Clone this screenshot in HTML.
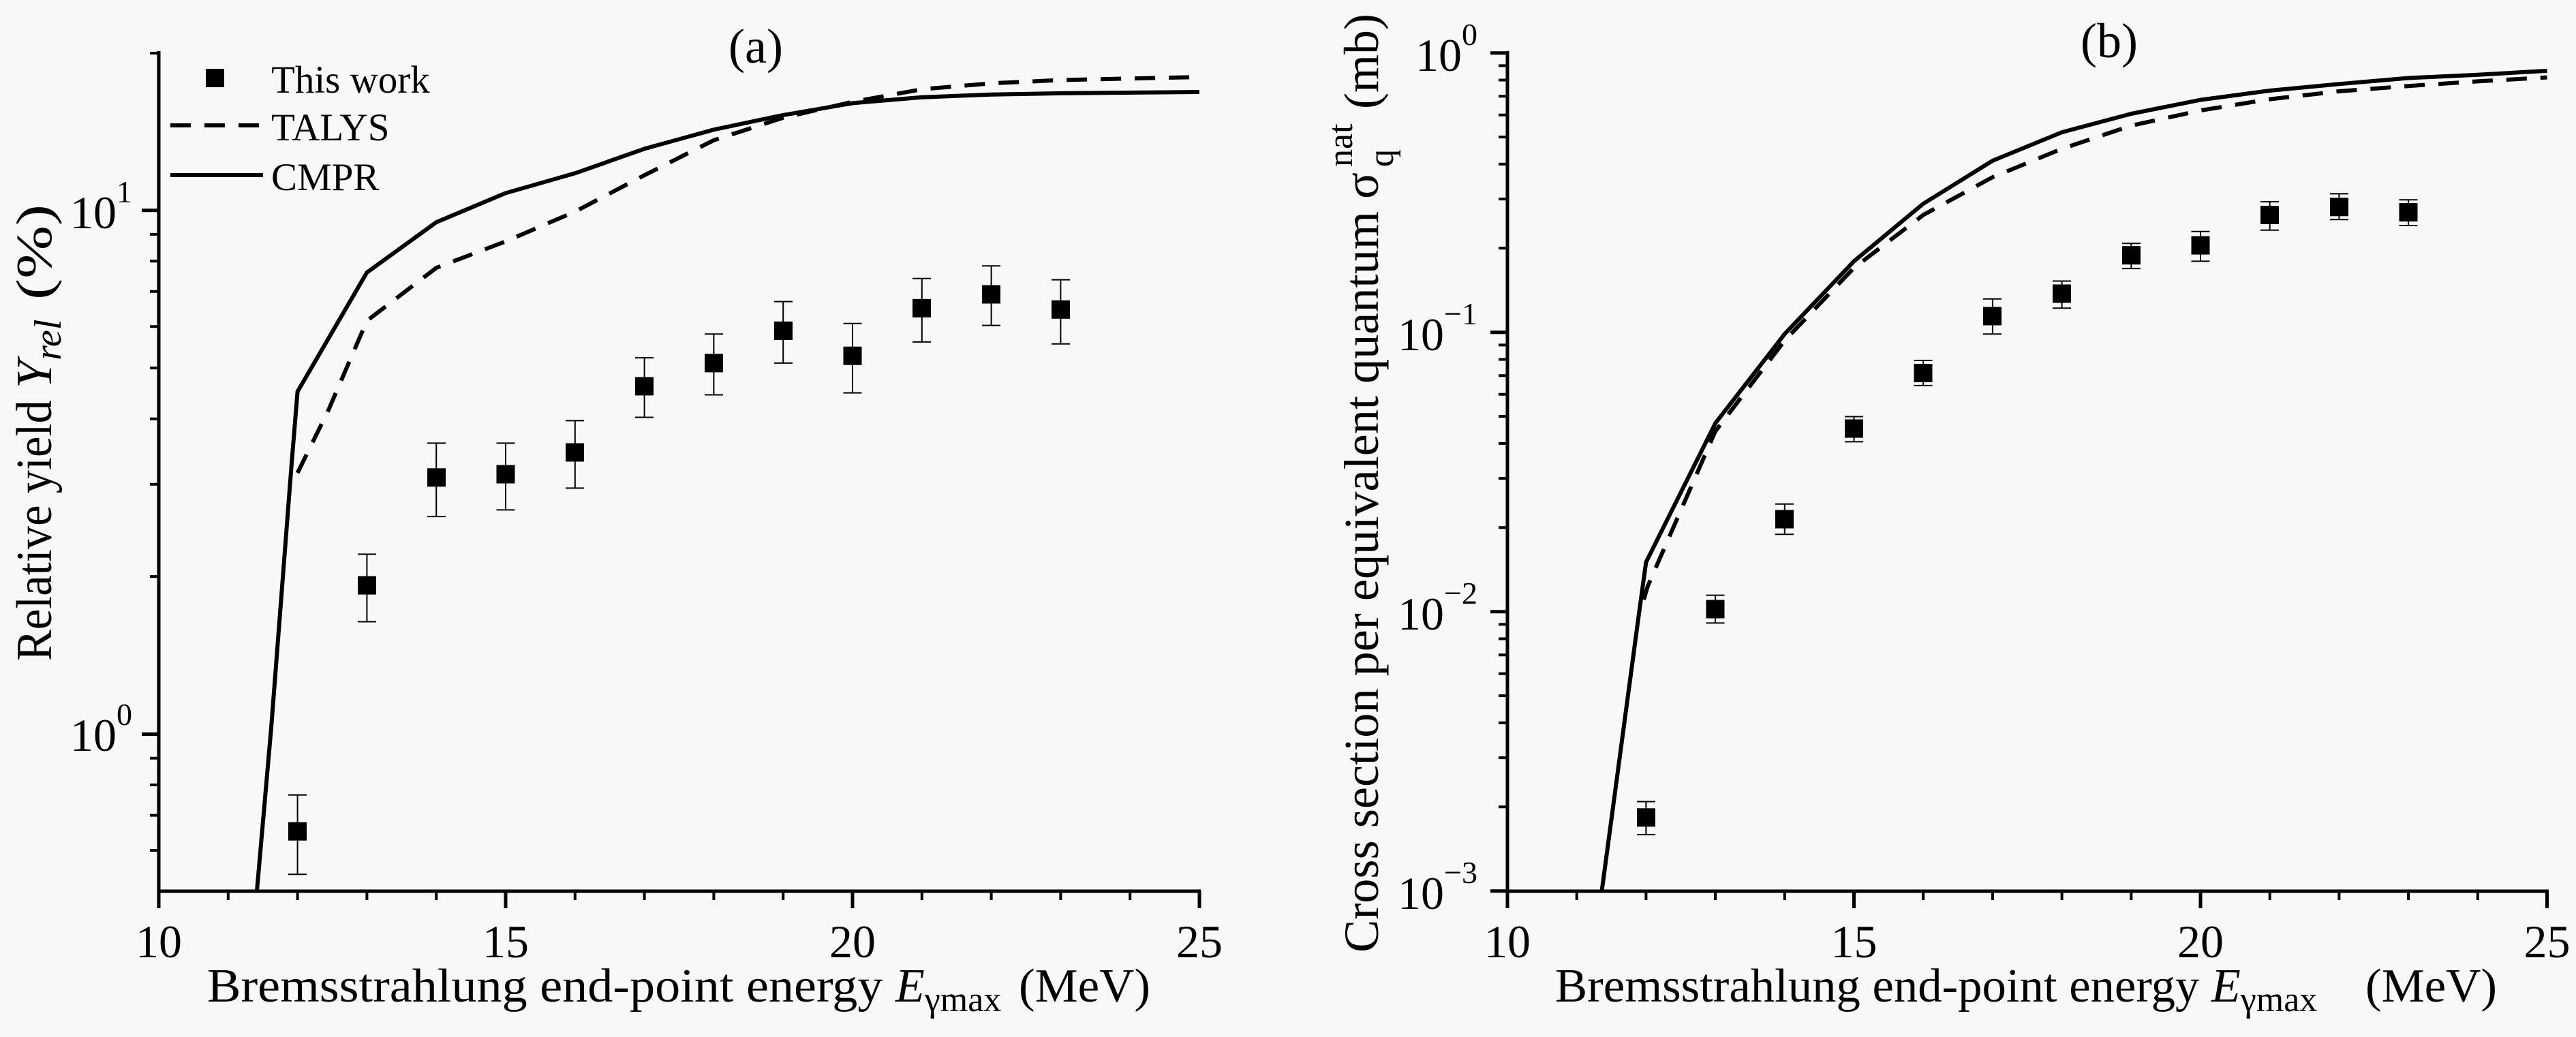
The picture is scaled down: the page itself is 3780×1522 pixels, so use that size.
<!DOCTYPE html>
<html><head><meta charset="utf-8"><style>
html,body{margin:0;padding:0;background:#f8f8f8}
svg{display:block;font-family:"Liberation Serif","Times New Roman",serif}
text,tspan{font-family:"Liberation Serif","Times New Roman",serif;fill:#000}
</style></head><body>
<svg width="3780" height="1522" viewBox="0 0 3780 1522" xmlns="http://www.w3.org/2000/svg" font-family="Liberation Serif, serif">
<rect width="3780" height="1522" fill="#f8f8f8"/>

<!-- ============ PANEL A ============ -->
<g stroke="#000" stroke-width="5" fill="none">
<path d="M233,75 V1308 H1762"/>
<path d="M233,1308v25M742,1308v25M1251,1308v25M1760,1308v25"/>
<path stroke-width="4" d="M334.8,1308v13M436.6,1308v13M538.4,1308v13M640.2,1308v13M843.8,1308v13M945.6,1308v13M1047.4,1308v13M1149.2,1308v13M1352.8,1308v13M1454.6,1308v13M1556.4,1308v13M1658.2,1308v13"/>
<path d="M233,1077.5h-25M233,308.7h-25"/>
<path stroke-width="4" d="M233,1248h-13M233,1196.6h-13M233,1152h-13M233,1112.7h-13M233,846.1h-13M233,710.7h-13M233,614.7h-13M233,540.1h-13M233,479.3h-13M233,427.8h-13M233,383.3h-13M233,343.9h-13M233,78h-13"/>
</g>
<g font-size="68" text-anchor="middle">
<text x="233" y="1405">10</text><text x="742" y="1405">15</text><text x="1251" y="1405">20</text><text x="1760" y="1405">25</text>
</g>
<text x="194" y="1102" font-size="68" text-anchor="end">10<tspan font-size="46" dy="-38">0</tspan></text>
<text x="194" y="335" font-size="68" text-anchor="end">10<tspan font-size="46" dy="-38">1</tspan></text>
<text x="1109" y="92" font-size="72" text-anchor="middle">(a)</text>

<g fill="none" stroke="#000" stroke-width="6" stroke-linejoin="round">
<polyline points="377,1307.5 398,1067.8 416,834.8 428,679.5 436.6,574.7 538.4,399.9 640.2,326.2 742,283.4 843.8,254.3 945.6,218.4 1047.4,190.3 1149.2,168.9 1251,151.4 1352.8,142.7 1454.6,138.8 1556.4,136.9 1760,135"/>
<polyline stroke-dasharray="30,20" points="436.6,694.1 482,601.8 538.4,470.8 640.2,393.1 742,354.3 843.8,310.6 945.6,257.2 1047.4,205.8 1149.2,172.8 1251,149.5 1352.8,131 1454.6,122.3 1556.4,117.5 1760,113"/>
</g>
<g stroke="#000" stroke-width="2" fill="none">
<path d="M436.6,1166.8V1283.3M423,1166.8h27M423,1283.3h27"/>
<path d="M538.4,813.4V912.5M525,813.4h27M525,912.5h27"/>
<path d="M640.2,650.4V758.1M627,650.4h27M627,758.1h27"/>
<path d="M742,650.4V748.4M728.5,650.4h27M728.5,748.4h27"/>
<path d="M843.8,617.4V716.4M830,617.4h27M830,716.4h27"/>
<path d="M945.6,525.1V612.5M932,525.1h27M932,612.5h27"/>
<path d="M1047.4,490.2V579.5M1034,490.2h27M1034,579.5h27"/>
<path d="M1149.2,442.6V532.9M1136,442.6h27M1136,532.9h27"/>
<path d="M1251,474.7V576.6M1237.5,474.7h27M1237.5,576.6h27"/>
<path d="M1352.8,408.7V501.9M1339,408.7h27M1339,501.9h27"/>
<path d="M1454.6,390.2V477.6M1441,390.2h27M1441,477.6h27"/>
<path d="M1556.4,410.6V504.8M1543,410.6h27M1543,504.8h27"/>
</g>
<g fill="#000">
<rect x="423" y="1206.7" width="27" height="27"/>
<rect x="525" y="845.6" width="27" height="27"/>
<rect x="627" y="687.3" width="27" height="27"/>
<rect x="728.5" y="682.5" width="27" height="27"/>
<rect x="830" y="650.5" width="27" height="27"/>
<rect x="932" y="553.4" width="27" height="27"/>
<rect x="1034" y="519.4" width="27" height="27"/>
<rect x="1136" y="471.9" width="27" height="27"/>
<rect x="1237.5" y="508.7" width="27" height="27"/>
<rect x="1339" y="438.8" width="27" height="27"/>
<rect x="1441" y="418.5" width="27" height="27"/>
<rect x="1543" y="440.8" width="27" height="27"/>
</g>
<rect x="302" y="101" width="27" height="27" fill="#000"/>
<text x="398" y="136" font-size="57">This work</text>
<line x1="250" y1="184" x2="386" y2="184" stroke="#000" stroke-width="6" stroke-dasharray="30,20"/>
<text x="398" y="206" font-size="57">TALYS</text>
<line x1="250" y1="257" x2="386" y2="257" stroke="#000" stroke-width="6"/>
<text x="398" y="279" font-size="57">CMPR</text>
<text y="1470" font-size="70"><tspan x="304" textLength="1010" lengthAdjust="spacingAndGlyphs">Bremsstrahlung end-point energy </tspan><tspan font-style="italic">E</tspan><tspan font-size="52" dy="14">γmax</tspan><tspan dy="-14" x="1495" textLength="193" lengthAdjust="spacingAndGlyphs">(MeV)</tspan></text>
<g transform="translate(75,970) rotate(-90)">
<text x="0" y="0" font-size="74"><tspan textLength="400" lengthAdjust="spacingAndGlyphs">Relative yield </tspan><tspan font-style="italic">Y</tspan><tspan font-style="italic" font-size="56" dy="14">rel</tspan><tspan dy="-14" x="530" textLength="140" lengthAdjust="spacingAndGlyphs">(%)</tspan></text>
</g>

<!-- ============ PANEL B ============ -->
<g stroke="#000" stroke-width="5" fill="none">
<path d="M2212,75 V1308 H3740"/>
<path d="M2212,1308v25M2720.5,1308v25M3229,1308v25M3737.5,1308v25"/>
<path stroke-width="4" d="M2313.7,1308v13M2415.4,1308v13M2517.1,1308v13M2618.8,1308v13M2822.2,1308v13M2923.9,1308v13M3025.6,1308v13M3127.3,1308v13M3330.7,1308v13M3432.4,1308v13M3534.1,1308v13M3635.8,1308v13"/>
<path d="M2212,77.7h-25M2212,487.7h-25M2212,897.7h-25M2212,1307.7h-25"/>
<path stroke-width="4" d="M2212,364.3h-13M2212,292.1h-13M2212,240.9h-13M2212,201.1h-13M2212,168.7h-13M2212,141.2h-13M2212,117.5h-13M2212,96.4h-13M2212,774.3h-13M2212,702.1h-13M2212,650.9h-13M2212,611.1h-13M2212,578.7h-13M2212,551.2h-13M2212,527.5h-13M2212,506.4h-13M2212,1184.3h-13M2212,1112.1h-13M2212,1060.9h-13M2212,1021.1h-13M2212,988.7h-13M2212,961.2h-13M2212,937.5h-13M2212,916.4h-13"/>
</g>
<g font-size="68" text-anchor="middle">
<text x="2212" y="1405">10</text><text x="2720.5" y="1405">15</text><text x="3229" y="1405">20</text><text x="3737.5" y="1405">25</text>
</g>
<g font-size="68" text-anchor="end">
<text x="2168" y="104">10<tspan font-size="46" dy="-38">0</tspan></text>
<text x="2168" y="514">10<tspan font-size="46" dy="-38">−1</tspan></text>
<text x="2168" y="924">10<tspan font-size="46" dy="-38">−2</tspan></text>
<text x="2168" y="1334">10<tspan font-size="46" dy="-38">−3</tspan></text>
</g>
<text x="3095" y="84" font-size="72" text-anchor="middle">(b)</text>

<g fill="none" stroke="#000" stroke-width="6" stroke-linejoin="round">
<polyline points="2350.5,1307.5 2404.7,902.8 2415.4,825.1 2517.1,621.2 2618.8,490.2 2720.5,383.4 2822.2,299 2923.9,235.9 3025.6,194.1 3127.3,167 3229,146.6 3330.7,133 3432.4,123.3 3534.1,114.5 3635.8,109.7 3737.5,103.9"/>
<polyline stroke-dasharray="30,20" points="2412,880 2418,860 2517.1,632.9 2618.8,499.9 2720.5,393.1 2822.2,315.5 2923.9,260.1 3025.6,218.4 3127.3,184.4 3229,162.1 3330.7,145.6 3432.4,134 3534.1,126.2 3635.8,119.4 3737.5,113.6"/>
</g>
<g stroke="#000" stroke-width="2" fill="none">
<path d="M2415.4,1176.5V1225M2402,1176.5h27M2402,1225h27"/>
<path d="M2517.1,873.6V914.4M2503.5,873.6h27M2503.5,914.4h27"/>
<path d="M2618.8,739.7V784.3M2605,739.7h27M2605,784.3h27"/>
<path d="M2720.5,611.5V648.4M2707,611.5h27M2707,648.4h27"/>
<path d="M2822.2,529V565.9M2808.5,529h27M2808.5,565.9h27"/>
<path d="M2923.9,438.8V490.2M2910,438.8h27M2910,490.2h27"/>
<path d="M3025.6,412.5V452.3M3012,412.5h27M3012,452.3h27"/>
<path d="M3127.3,357.2V394.1M3114,357.2h27M3114,394.1h27"/>
<path d="M3229,339.7V383.4M3215.5,339.7h27M3215.5,383.4h27"/>
<path d="M3330.7,296.1V337.8M3317,296.1h27M3317,337.8h27"/>
<path d="M3432.4,284.4V322.3M3419,284.4h27M3419,322.3h27"/>
<path d="M3534.1,293.2V331M3520.5,293.2h27M3520.5,331h27"/>
</g>
<g fill="#000">
<rect x="2402" y="1186.3" width="27" height="27"/>
<rect x="2503.5" y="880.5" width="27" height="27"/>
<rect x="2605" y="748.5" width="27" height="27"/>
<rect x="2707" y="615.5" width="27" height="27"/>
<rect x="2808.5" y="534" width="27" height="27"/>
<rect x="2910" y="450.5" width="27" height="27"/>
<rect x="3012" y="417.5" width="27" height="27"/>
<rect x="3114" y="361.2" width="27" height="27"/>
<rect x="3215.5" y="346.6" width="27" height="27"/>
<rect x="3317" y="302" width="27" height="27"/>
<rect x="3419" y="290.3" width="27" height="27"/>
<rect x="3520.5" y="298.1" width="27" height="27"/>
</g>
<text y="1470" font-size="70"><tspan x="2282" textLength="963" lengthAdjust="spacingAndGlyphs">Bremsstrahlung end-point energy </tspan><tspan font-style="italic">E</tspan><tspan font-size="52" dy="14">γmax</tspan><tspan dy="-14" x="3471" textLength="193" lengthAdjust="spacingAndGlyphs">(MeV)</tspan></text>
<g transform="translate(2022,1398) rotate(-90)">
<text x="0" y="0" font-size="72"><tspan textLength="1145" lengthAdjust="spacingAndGlyphs">Cross section per equivalent quantum σ</tspan></text>
<text x="1153" y="22" font-size="52">q</text>
<text x="1153" y="-38" font-size="52">nat</text>
<text x="1238" y="0" font-size="72" textLength="140" lengthAdjust="spacingAndGlyphs">(mb)</text>
</g>
</svg>
</body></html>
